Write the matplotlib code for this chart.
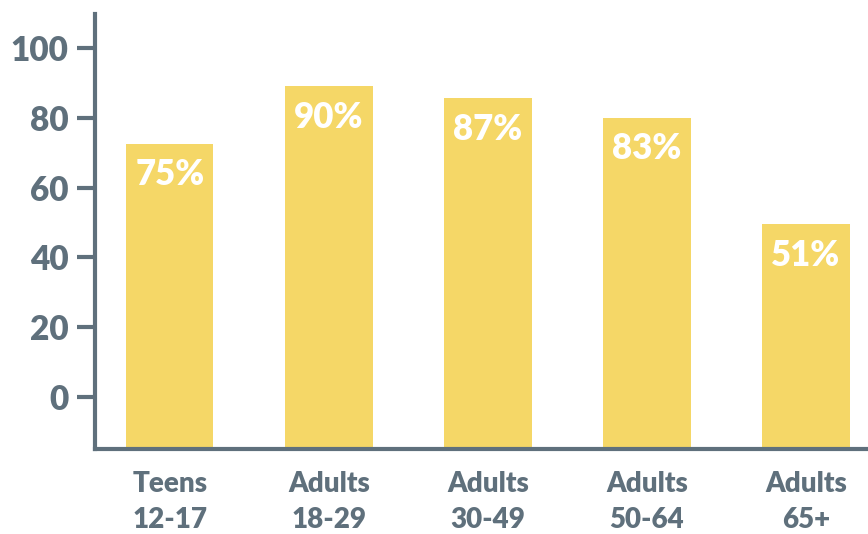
import matplotlib
matplotlib.use("Agg")
import matplotlib.pyplot as plt

# values as drawn (bar tops) and the printed labels
groups = ["Teens\n12-17", "Adults\n18-29", "Adults\n30-49", "Adults\n50-64", "Adults\n65+"]
bar_values = [72.5, 89, 85.5, 80, 49.5]
bar_labels = ["75%", "90%", "87%", "83%", "51%"]
yticks = [0, 20, 40, 60, 80, 100]

gray = "#5F707C"
yellow = "#F5D767"
plt.rcParams["font.family"] = ["Lato", "DejaVu Sans"]
plt.rcParams["font.weight"] = "heavy"

fig = plt.figure(figsize=(8.68, 5.34), dpi=100)
ax = fig.add_axes([95 / 868, 85 / 534, 1 - 95 / 868, (449 - 14) / 534])

bottom = -15
x = list(range(len(groups)))
heights = [v - bottom for v in bar_values]
ax.bar(x, heights, bottom=bottom, width=0.55, color=yellow, zorder=1)

for xi, v, lab in zip(x, bar_values, bar_labels):
    ax.annotate(lab, (xi, v), xytext=(0, -31), textcoords="offset pixels",
                ha="center", va="center", color="white", fontsize=25, fontweight="heavy")

ax.set_xlim(-0.47, 4.39)
ax.set_ylim(-14.9, 109.7)
ax.set_yticks(yticks)
ax.set_yticklabels([str(t) for t in yticks])
ax.set_xticks(x)
ax.set_xticklabels(groups, linespacing=1.45)

for side in ["top", "right"]:
    ax.spines[side].set_visible(False)
for side in ["left", "bottom"]:
    ax.spines[side].set_color(gray)
    ax.spines[side].set_linewidth(3)

ax.tick_params(axis="y", length=13, width=3, color=gray, labelcolor=gray,
               labelsize=24, pad=6)
ax.tick_params(axis="x", length=0, labelcolor=gray, labelsize=20, pad=16)

fig.savefig("out.png", dpi=100)
